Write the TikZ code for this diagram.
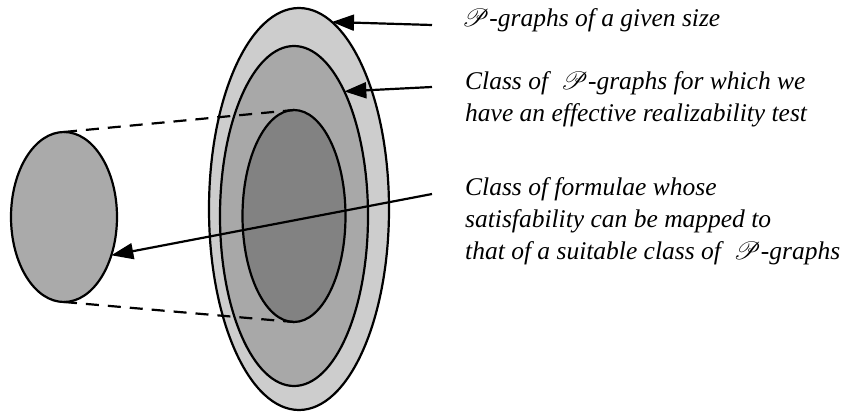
\documentclass[tikz,border=0pt]{standalone}
\usepackage{fontspec}
\usepackage{mathrsfs}
\setmainfont{Liberation Serif}
\usetikzlibrary{shapes.geometric,arrows.meta}
\definecolor{ringA}{RGB}{205,205,205}
\definecolor{ringB}{RGB}{168,168,168}
\definecolor{ringC}{RGB}{130,130,130}
\definecolor{leftC}{RGB}{170,170,170}
\begin{document}
\begin{tikzpicture}[x=1pt,y=-1pt,
  ring/.style={ellipse, draw=black, line width=2.2pt, inner sep=0pt, outer sep=0pt},
  dashline/.style={line width=2.2pt, dash pattern=on 13pt off 9pt},
  ptr/.style={line width=2.2pt, -{Triangle[length=22pt,width=16pt]}},
  lbl/.style={anchor=base west, inner sep=0pt, font=\fontsize{25.5}{31}\selectfont\itshape}]
\useasboundingbox (0,0) rectangle (846,414);
\node[ring, fill=ringA, minimum width=180pt, minimum height=402pt] (outer) at (299,209) {};
\node[ring, fill=ringB, minimum width=148pt, minimum height=340pt] (mid) at (294,216) {};
\node[ring, fill=ringC, minimum width=103pt, minimum height=212pt] (inner) at (294,216) {};
\node[ring, fill=leftC, minimum width=106pt, minimum height=170pt] (left) at (64,217) {};
\draw[dashline] (left.north) -- (inner.north);
\draw[dashline] (left.south) -- (inner.south);
\coordinate (s1) at (432,25);
\coordinate (s2) at (432,87);
\coordinate (s3) at (432,194);
\draw[ptr] (s1) -- (outer.80.7);
\draw[ptr] (s2) -- (mid.68);
\draw[ptr] (s3) -- (left.-39.8);
\node[lbl] (t1) at (462,27) {$\mathscr{P}$-graphs of a given size};
\node[lbl] (t2a) at (465,90) {Class of\ \ $\mathscr{P}$-graphs for which we};
\node[lbl] (t2b) at (465,122) {have an effective realizability test};
\node[lbl] (t3a) at (465,196) {Class of formulae whose};
\node[lbl] (t3b) at (465,228) {satisfability can be mapped to};
\node[lbl] (t3c) at (465,259) {that of a suitable class of\ \ $\mathscr{P}$-graphs};
\end{tikzpicture}
\end{document}
